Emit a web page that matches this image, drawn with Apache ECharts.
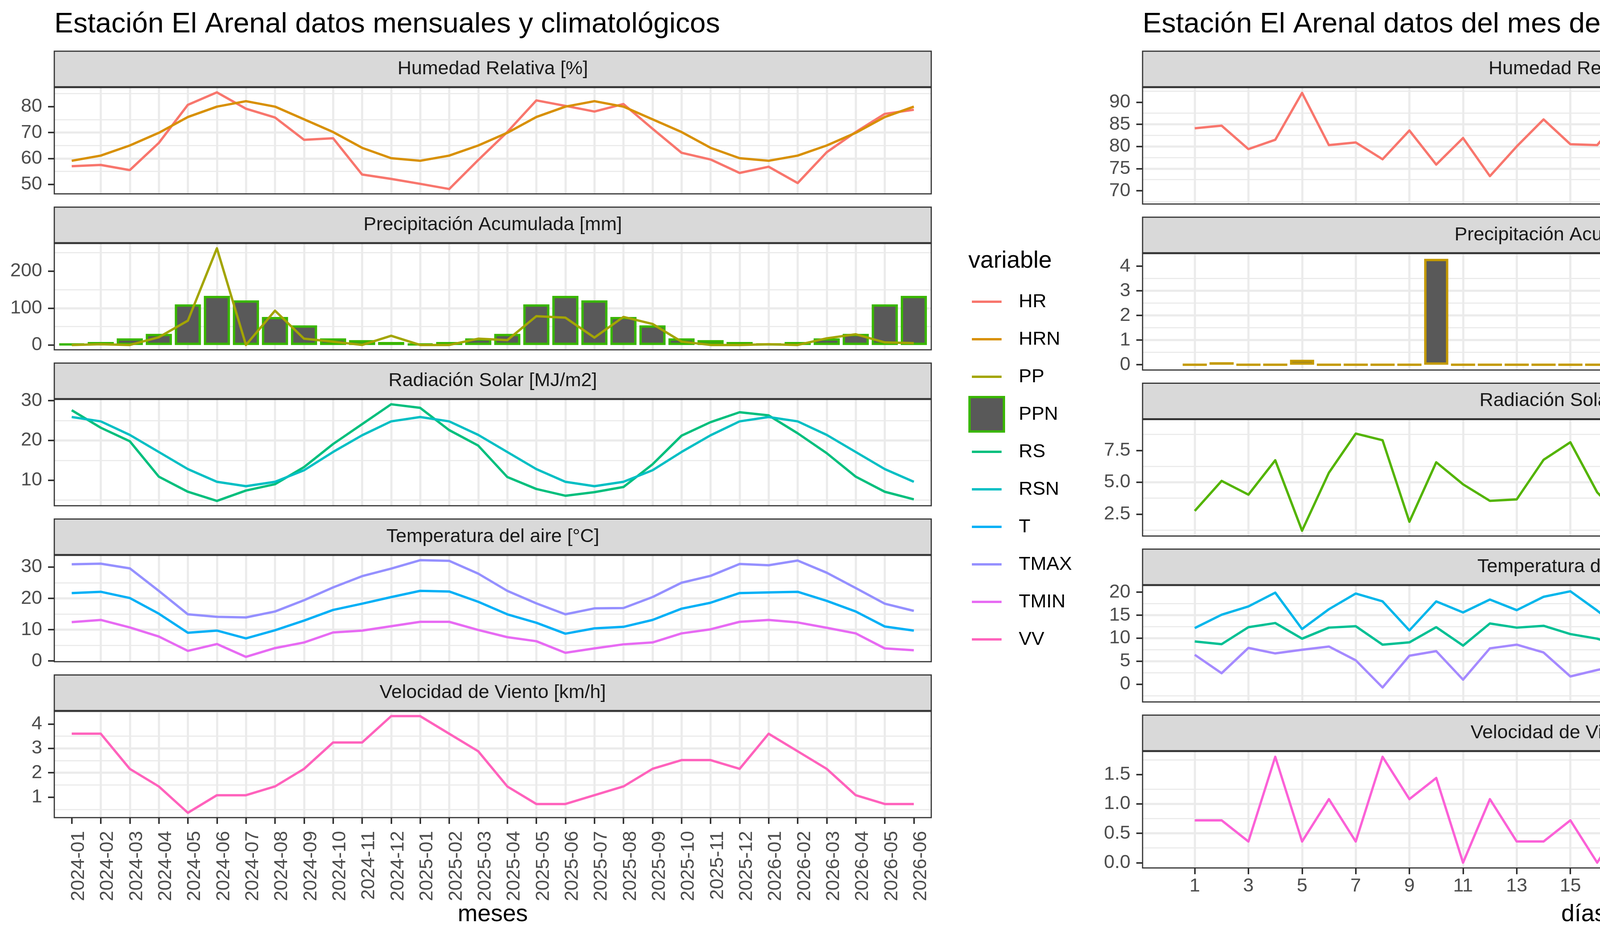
<!DOCTYPE html>
<html lang="es">
<head>
<meta charset="utf-8">
<title>Estación El Arenal</title>
<script src="https://cdn.jsdelivr.net/npm/echarts@6.0.0/dist/echarts.min.js"></script>
<style>
html, body { margin: 0; padding: 0; background: #ffffff; }
#lienzo { display: flex; width: 5600px; height: 2400px; }
#mensual, #diario { width: 2800px; height: 2400px; flex: none; }
</style>
</head>
<body>
<div id="lienzo"><div id="mensual"></div><div id="diario"></div></div>
<script>
// ---- datos mensuales y climatologicos ----
const meses = ['2024-01','2024-02','2024-03','2024-04','2024-05','2024-06','2024-07','2024-08','2024-09','2024-10','2024-11','2024-12',
               '2025-01','2025-02','2025-03','2025-04','2025-05','2025-06','2025-07','2025-08','2025-09','2025-10','2025-11','2025-12',
               '2026-01','2026-02','2026-03','2026-04','2026-05','2026-06'];
const hr   = [57.0,57.5,55.5,66.0,80.7,85.5,79.2,75.8,67.2,67.8,53.8,52.1,50.2,48.2,59.4,70.2,82.4,80.3,78.1,81.0,71.5,62.2,59.6,54.4,56.8,50.5,62.4,70.2,77.2,78.8];
const hrn  = [59.1,61.1,65.0,69.9,76.0,80.0,82.1,80.0,75.1,70.2,64.1,60.1,59.1,61.1,65.0,69.9,76.0,80.0,82.1,80.0,75.1,70.2,64.1,60.1,59.1,61.1,65.0,69.9,76.0,80.0];
const pp   = [0,2,0,21,66,262,0,93,17,9,0,25,0,0,17,13,78,74,20,76,57,9,0,0,2,0,18,29,7,5];
const ppn  = [3,8,18,30,110,133,121,76,53,18,13,8,3,8,18,30,110,133,121,76,53,18,13,8,3,8,18,30,110,133];
const rs   = [27.6,23.2,19.8,10.9,7.1,4.8,7.4,9.0,13.3,19.1,24.1,29.1,28.2,22.6,18.7,10.8,7.8,6.1,7.0,8.3,14.0,21.2,24.6,27.1,26.3,21.8,16.8,10.9,7.1,5.2];
const rsn  = [25.9,24.8,21.4,17.1,12.8,9.6,8.5,9.6,12.5,17.1,21.3,24.8,25.9,24.8,21.4,17.1,12.8,9.6,8.5,9.6,12.5,17.1,21.3,24.8,25.9,24.8,21.4,17.1,12.8,9.6];
const tmed = [21.7,22.1,20.1,15.1,9.0,9.7,7.2,9.8,12.9,16.3,18.3,20.4,22.4,22.2,18.9,14.9,12.2,8.7,10.4,10.9,13.1,16.7,18.6,21.7,21.9,22.1,19.2,15.8,11.0,9.7];
const tmax = [30.9,31.1,29.6,22.4,14.9,14.1,13.9,15.8,19.4,23.5,27.1,29.5,32.2,32.0,27.9,22.4,18.4,14.9,16.8,16.9,20.4,25.0,27.2,31.0,30.6,32.1,28.2,23.3,18.3,16.0];
const tmin = [12.4,13.1,10.7,7.8,3.2,5.4,1.3,4.1,5.9,9.1,9.7,11.1,12.5,12.5,9.9,7.6,6.3,2.6,4.0,5.3,5.9,8.8,10.1,12.5,13.1,12.3,10.6,8.8,4.0,3.4];
const vv   = [3.6,3.6,2.16,1.44,0.36,1.08,1.08,1.44,2.16,3.24,3.24,4.32,4.32,3.6,2.88,1.44,0.72,0.72,1.08,1.44,2.16,2.52,2.52,2.16,3.6,2.88,2.16,1.08,0.72,0.72];

// ---- datos diarios, junio 2026 ----
const dias    = [1,2,3,4,5,6,7,8,9,10,11,12,13,14,15,16,17,18,19,20,21,22,23,24,25,26,27,28,29,30];
const hrDia   = [84.1,84.7,79.4,81.5,92.1,80.3,80.9,77.1,83.6,75.9,81.9,73.3,80.0,86.1,80.5,80.3,87.4,81.0,78.3,81.7,72.1,70.4,78.4,75.5,70.3,70.6,81.3,68.2,73.8,73.2];
const ppDia   = [0,0.1,0,0,0.2,0,0,0,0,4.3,0,0,0,0,0,0,0,0.6,0,0,0,0,0,0,0,0,0,0,0,0];
const rsDia   = [2.75,5.11,4.03,6.73,1.2,5.75,8.82,8.30,1.90,6.57,4.84,3.54,3.66,6.76,8.14,4.21,2.01,6.97,8.25,4.10,7.12,8.58,9.20,4.01,8.18,7.99,4.50,8.85,9.04,9.51];
const tDia    = [9.3,8.7,12.4,13.3,9.9,12.3,12.6,8.6,9.1,12.4,8.4,13.2,12.3,12.7,10.9,9.9,8.0,11.9,11.0,10.3,8.3,6.7,6.0,7.6,9.1,9.7,7.3,7.5,7.5,6.2];
const tmaxDia = [12.2,15.1,16.9,19.9,12.0,16.3,19.7,18.0,11.7,18.0,15.6,18.4,16.1,19.0,20.2,16.0,11.4,17.5,20.0,15.1,14.7,16.0,11.1,13.1,20.3,18.5,12.6,16.6,13.4,15.0];
const tminDia = [6.4,2.4,7.9,6.7,7.5,8.2,5.2,-0.7,6.2,7.2,1.0,7.8,8.6,6.9,1.7,3.1,4.3,5.8,2.4,6.0,2.0,-1.9,0.7,2.2,-1.8,1.0,2.2,-1.5,1.1,-2.7];
const vvDia   = [0.72,0.72,0.36,1.8,0.36,1.08,0.36,1.8,1.08,1.44,0,1.08,0.36,0.36,0.72,0,0.72,0.72,0.72,0.72,1.08,0.72,1.08,0.72,0.72,0.72,0.72,0.72,0.72,1.08];

// ---- marcas de los ejes ----
const ticksHR   = [50, 60, 70, 80];
const ticksPP   = [0, 100, 200];
const ticksRS   = [10, 20, 30];
const ticksT    = [0, 10, 20, 30];
const ticksVV   = [1, 2, 3, 4];
const ticksHRd  = [70, 75, 80, 85, 90];
const ticksPPd  = [0, 1, 2, 3, 4];
const ticksRSd  = [2.5, 5.0, 7.5];
const ticksTd   = [0, 5, 10, 15, 20];
const ticksVVd  = [0, 0.5, 1.0, 1.5];
const etiquetasDias = [1,3,5,7,9,11,13,15,17,19,21,23,25,27,29];

const FUENTE = 'Liberation Sans, Arial, Helvetica, sans-serif';
const GRIS_EJE = '#4D4D4D';
const BORDE = '#333333';
const REJILLA = '#EBEBEB';

// rango con la expansion del 5% que usa ggplot
function rango(listas, extra) {
  let lo = Infinity, hi = -Infinity;
  listas.concat([extra || []]).forEach(function (l) {
    l.forEach(function (v) { if (v < lo) lo = v; if (v > hi) hi = v; });
  });
  const e = (hi - lo) * 0.05;
  return [lo - e, hi + e];
}

function linea(name, color, data) {
  return { type: 'line', name: name, data: data, color: color, symbol: 'none', showSymbol: false,
           lineStyle: { color: color, width: 6, join: 'round' }, z: 3 };
}
function barra(name, borde, data, ancho) {
  return { type: 'bar', name: name, data: data, barWidth: ancho, z: 2,
           itemStyle: { color: '#595959', borderColor: borde, borderWidth: 6 } };
}

function ejeY(k, lim, ticks, fmt) {
  const paso = ticks[1] - ticks[0];
  return {
    type: 'value', gridIndex: k, min: lim[0], max: lim[1], minInterval: paso, maxInterval: paso,
    axisLine: { show: false, onZero: false },
    axisTick: { show: true, customValues: ticks, length: 16, lineStyle: { color: BORDE, width: 4 } },
    axisLabel: { show: true, customValues: ticks, hideOverlap: false, margin: 31,
                 formatter: fmt || function (v) { return String(v); },
                 fontSize: 49, fontFamily: FUENTE, color: GRIS_EJE },
    splitLine: { show: true, showMinLine: false, showMaxLine: false, lineStyle: { color: REJILLA, width: 5.5 } },
    minorTick: { show: false, splitNumber: 2 },
    minorSplitLine: { show: true, lineStyle: { color: REJILLA, width: 2.8 } }
  };
}

function ejeXMeses(k, abajo) {
  const idx = meses.map(function (m, i) { return i; });
  return {
    type: 'value', gridIndex: k, min: -0.6, max: meses.length - 0.4, minInterval: 1, maxInterval: 1,
    axisLine: { show: false, onZero: false },
    axisTick: { show: abajo, customValues: idx, length: 16, lineStyle: { color: BORDE, width: 4 } },
    axisLabel: { show: abajo, customValues: idx, hideOverlap: false, rotate: 90, verticalAlign: 'top',
                 lineHeight: 36, margin: 34, fontSize: 49, fontFamily: FUENTE, color: GRIS_EJE,
                 formatter: function (v) { return meses[v] || ''; } },
    splitLine: { show: true, showMinLine: false, showMaxLine: false, lineStyle: { color: REJILLA, width: 5.5 } }
  };
}

const limDias = rango([[dias[0] - 0.45, dias[dias.length - 1] + 0.45]]);
function ejeXDias(k, abajo) {
  return {
    type: 'value', gridIndex: k, min: limDias[0], max: limDias[1], minInterval: 2, maxInterval: 2,
    axisLine: { show: false, onZero: false },
    axisTick: { show: abajo, customValues: etiquetasDias, length: 16, lineStyle: { color: BORDE, width: 4 } },
    axisLabel: { show: abajo, customValues: etiquetasDias, hideOverlap: false, margin: 22, lineHeight: 50,
                 fontSize: 49, fontFamily: FUENTE, color: GRIS_EJE },
    // los ticks automaticos caen en los dias pares (lineas finas); los impares son la rejilla gruesa
    splitLine: { show: true, showMinLine: false, showMaxLine: false, lineStyle: { color: REJILLA, width: 2.8 } },
    minorTick: { show: false, splitNumber: 2 },
    minorSplitLine: { show: true, lineStyle: { color: REJILLA, width: 5.5 } }
  };
}

// cada entrada ocupa 50 px de texto + 46 de separacion = 96 px como en ggplot
function leyendaLineas(nombres, centro) {
  return { data: nombres, orient: 'vertical', left: 2488, top: centro - 25, padding: 0,
           itemWidth: 76, itemHeight: 6, itemGap: 46, icon: 'rect', selectedMode: false,
           textStyle: { fontSize: 49, fontFamily: FUENTE, color: '#000000', lineHeight: 50, padding: [0, 0, 0, 39] } };
}
function leyendaCaja(nombre, borde, centro) {
  return { data: [{ name: nombre, itemStyle: { color: '#595959', borderColor: borde, borderWidth: 6 } }],
           orient: 'vertical', left: 2479, top: centro - 47, padding: 0,
           itemWidth: 88, itemHeight: 88, icon: 'rect', selectedMode: false,
           textStyle: { fontSize: 49, fontFamily: FUENTE, color: '#000000', lineHeight: 50, padding: [0, 0, 0, 33] } };
}

function texto(x, y, t, size, color, align) {
  return { type: 'text', x: x, y: y, silent: true, z: 100,
           style: { text: t, fontSize: size, fontFamily: FUENTE, fill: color,
                    align: align, verticalAlign: 'middle', textAlign: align, textVerticalAlign: 'middle' } };
}

function armar(dom, lay, paneles, ejeX, leyendas, titulo, nombreX, yLeyenda) {
  const grid = [], xAxis = [], yAxis = [], series = [];
  const ancho = lay.x1 - lay.x0;
  const graphic = [
    texto(lay.x0, 63, titulo, 73, '#000000', 'left'),
    texto(2479, yLeyenda, 'variable', 61, '#000000', 'left'),
    texto((lay.x0 + lay.x1) / 2, 2340, nombreX, 61, '#000000', 'center')
  ];
  paneles.forEach(function (p, k) {
    const yTira = lay.tira0 + lay.paso * k;
    const yPanel = yTira + lay.tiraAlto;
    grid.push({ left: lay.x0, top: yPanel, width: ancho, height: lay.panelAlto, outerBoundsMode: 'none', containLabel: false });
    xAxis.push(ejeX(k, k === paneles.length - 1));
    yAxis.push(ejeY(k, p.lim, p.ticks, p.fmt));
    p.series.forEach(function (s) { s.xAxisIndex = k; s.yAxisIndex = k; series.push(s); });
    graphic.push({ type: 'rect', silent: true, z: 100,
                   shape: { x: lay.x0, y: yTira, width: ancho, height: lay.tiraAlto - 2 },
                   style: { fill: '#D9D9D9', stroke: BORDE, lineWidth: 3 } });
    graphic.push(texto((lay.x0 + lay.x1) / 2, yTira + (lay.tiraAlto - 2) / 2, p.tira, 49, '#1A1A1A', 'center'));
    graphic.push({ type: 'rect', silent: true, z: 100,
                   shape: { x: lay.x0, y: yPanel, width: ancho, height: lay.panelAlto },
                   style: { fill: 'none', stroke: BORDE, lineWidth: 3 } });
  });
  const chart = echarts.init(dom, null, { renderer: 'canvas' });
  chart.setOption({
    animation: false,
    backgroundColor: '#ffffff',
    textStyle: { fontFamily: FUENTE },
    grid: grid, xAxis: xAxis, yAxis: yAxis, series: series,
    legend: leyendas, graphic: graphic
  });
  return chart;
}

// ---- grafico mensual ----
const LAY_MES = { x0: 139, x1: 2384, tira0: 131, paso: 399, tiraAlto: 93, panelAlto: 272 };
const anchoMes = 0.9 * (LAY_MES.x1 - LAY_MES.x0) / (meses.length + 0.2);
const porMes = function (vals) { return vals.map(function (v, i) { return [i, v]; }); };

const panelesMes = [
  { tira: 'Humedad Relativa [%]', ticks: ticksHR, lim: rango([hr, hrn]),
    series: [linea('HR', '#F8766D', porMes(hr)), linea('HRN', '#D89000', porMes(hrn))] },
  { tira: 'Precipitación Acumulada [mm]', ticks: ticksPP, lim: rango([pp, ppn], [0]),
    series: [barra('PPN', '#39B600', porMes(ppn), anchoMes), linea('PP', '#A3A500', porMes(pp))] },
  { tira: 'Radiación Solar [MJ/m2]', ticks: ticksRS, lim: rango([rs, rsn]),
    series: [linea('RS', '#00BF7D', porMes(rs)), linea('RSN', '#00BFC4', porMes(rsn))] },
  { tira: 'Temperatura del aire [°C]', ticks: ticksT, lim: rango([tmed, tmax, tmin]),
    series: [linea('T', '#00B0F6', porMes(tmed)), linea('TMAX', '#9590FF', porMes(tmax)), linea('TMIN', '#E76BF3', porMes(tmin))] },
  { tira: 'Velocidad de Viento [km/h]', ticks: ticksVV, lim: rango([vv]),
    series: [linea('VV', '#FF62BC', porMes(vv))] }
];

armar(document.getElementById('mensual'), LAY_MES, panelesMes, ejeXMeses,
  [leyendaLineas(['HR', 'HRN', 'PP'], 772), leyendaCaja('PPN', '#39B600', 1060),
   leyendaLineas(['RS', 'RSN', 'T', 'TMAX', 'TMIN', 'VV'], 1156)],
  'Estación El Arenal datos mensuales y climatológicos', 'meses', 668);

// ---- grafico diario ----
const LAY_DIA = { x0: 125, x1: 2384, tira0: 131, paso: 424.7, tiraAlto: 93, panelAlto: 298 };
const anchoDia = 0.9 * (LAY_DIA.x1 - LAY_DIA.x0) / (limDias[1] - limDias[0]);
const porDia = function (vals) { return vals.map(function (v, i) { return [dias[i], v]; }); };
const unDecimal = function (v) { return v.toFixed(1); };

const panelesDia = [
  { tira: 'Humedad Relativa [%]', ticks: ticksHRd, lim: rango([hrDia]),
    series: [linea('HR', '#F8766D', porDia(hrDia))] },
  { tira: 'Precipitación Acumulada [mm]', ticks: ticksPPd, lim: rango([ppDia], [0]),
    series: [barra('PP', '#C49A00', porDia(ppDia), anchoDia)] },
  { tira: 'Radiación Solar [MJ/m2]', ticks: ticksRSd, lim: rango([rsDia]), fmt: unDecimal,
    series: [linea('RS', '#53B400', porDia(rsDia))] },
  { tira: 'Temperatura del aire [°C]', ticks: ticksTd, lim: rango([tDia, tmaxDia, tminDia]),
    series: [linea('T', '#00C094', porDia(tDia)), linea('TMAX', '#00B6EB', porDia(tmaxDia)), linea('TMIN', '#A58AFF', porDia(tminDia))] },
  { tira: 'Velocidad de Viento [km/h]', ticks: ticksVVd, lim: rango([vvDia]), fmt: unDecimal,
    series: [linea('VV', '#FB61D7', porDia(vvDia))] }
];

armar(document.getElementById('diario'), LAY_DIA, panelesDia, ejeXDias,
  [leyendaLineas(['HR'], 979), leyendaCaja('PP', '#C49A00', 1076),
   leyendaLineas(['RS', 'T', 'TMAX', 'TMIN', 'VV'], 1172)],
  'Estación El Arenal datos del mes de Junio de 2026', 'días', 875);
</script>
</body>
</html>
